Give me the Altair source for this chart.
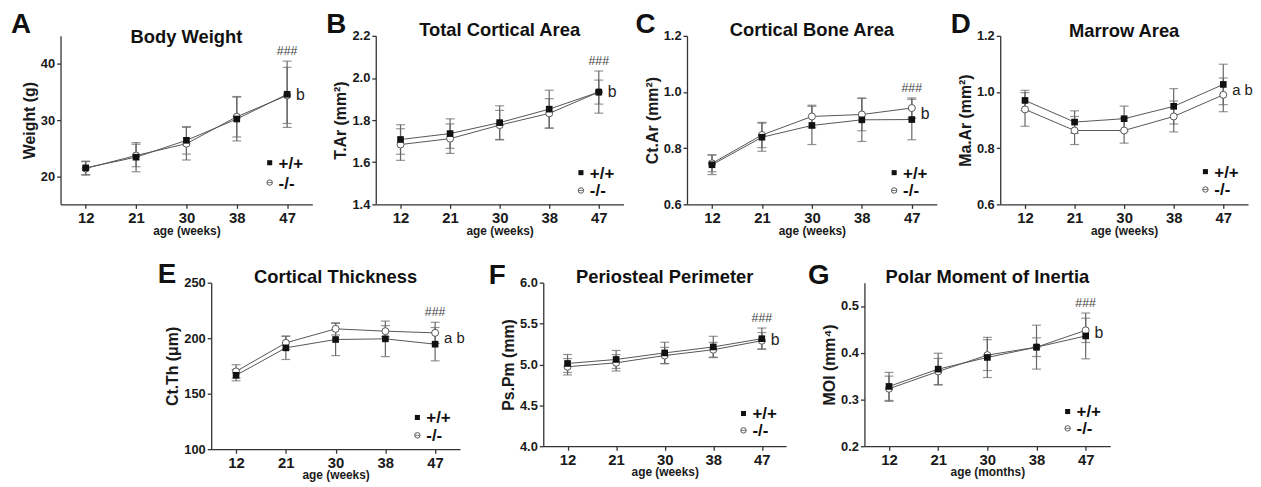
import altair as alt
import pandas as pd

FONT = "Liberation Sans"
ages = ["12", "21", "30", "38", "47"]
genotypes = ["+/+", "-/-"]

# A Body Weight
bw_wt = [21.5, 23.4, 26.4, 30.2, 34.6]
bw_wt_sd = [1.2, 2.6, 2.45, 3.9, 5.9]
bw_ko = [21.4, 23.7, 25.8, 30.6, 34.4]
bw_ko_sd = [1.2, 2.0, 2.9, 3.6, 5.0]
# B Total Cortical Area
tar_wt = [1.708, 1.736, 1.788, 1.852, 1.933]
tar_wt_sd = [0.07, 0.07, 0.08, 0.09, 0.10]
tar_ko = [1.684, 1.712, 1.776, 1.832, 1.933]
tar_ko_sd = [0.075, 0.07, 0.07, 0.07, 0.057]
# C Cortical Bone Area
ctar_wt = [0.741, 0.839, 0.881, 0.901, 0.902]
ctar_wt_sd = [0.035, 0.05, 0.068, 0.077, 0.072]
ctar_ko = [0.746, 0.847, 0.913, 0.920, 0.943]
ctar_ko_sd = [0.03, 0.045, 0.04, 0.058, 0.036]
# D Marrow Area
maar_wt = [0.970, 0.893, 0.905, 0.949, 1.027]
maar_wt_sd = [0.036, 0.04, 0.045, 0.063, 0.072]
maar_ko = [0.938, 0.863, 0.863, 0.913, 0.990]
maar_ko_sd = [0.06, 0.05, 0.045, 0.055, 0.06]
# E Cortical Thickness
ctth_wt = [166.6, 191.3, 198.8, 199.4, 194.6]
ctth_wt_sd = [5.0, 10.5, 14.5, 16.0, 15.0]
ctth_ko = [170.1, 195.8, 208.4, 206.3, 204.8]
ctth_ko_sd = [6.0, 6.0, 5.5, 5.0, 9.5]
# F Periosteal Perimeter
pspm_wt = [5.012, 5.061, 5.141, 5.214, 5.315]
pspm_wt_sd = [0.11, 0.11, 0.13, 0.13, 0.13]
pspm_ko = [4.972, 5.020, 5.109, 5.180, 5.290]
pspm_ko_sd = [0.10, 0.10, 0.10, 0.09, 0.10]
# G Polar Moment of Inertia
moi_wt = [0.328, 0.365, 0.390, 0.412, 0.436]
moi_wt_sd = [0.03, 0.034, 0.043, 0.047, 0.049]
moi_ko = [0.323, 0.360, 0.395, 0.412, 0.448]
moi_ko_sd = [0.027, 0.028, 0.033, 0.02, 0.026]

panels = [
    dict(letter="A", title="Body Weight", ytitle="Weight (g)", xtitle="age (weeks)",
         domain=[15, 45], ticks=[20, 30, 40], fmt="d",
         wt=bw_wt, wt_sd=bw_wt_sd, ko=bw_ko, ko_sd=bw_ko_sd, hashes="###", sig="b",
         w=254, h=170, title_y=7, letter_x=-50, letter_y=-3, anchor=-52, leg=(-42, -22)),
    dict(letter="B", title="Total Cortical Area", ytitle="T.Ar (mm²)", xtitle="age (weeks)",
         domain=[1.4, 2.2], ticks=[1.4, 1.6, 1.8, 2.0, 2.2], fmt=".1f",
         wt=tar_wt, wt_sd=tar_wt_sd, ko=tar_ko, ko_sd=tar_ko_sd, hashes="###", sig="b",
         w=250, h=170, title_y=0, letter_x=-50, letter_y=-3, anchor=-52, leg=(-32, -14)),
    dict(letter="C", title="Cortical Bone Area", ytitle="Ct.Ar (mm²)", xtitle="age (weeks)",
         domain=[0.6, 1.2], ticks=[0.6, 0.8, 1.0, 1.2], fmt=".1f",
         wt=ctar_wt, wt_sd=ctar_wt_sd, ko=ctar_ko, ko_sd=ctar_ko_sd, hashes="###", sig="b",
         w=252, h=170, title_y=0, letter_x=-52, letter_y=-3, anchor=-52, leg=(-32, -14)),
    dict(letter="D", title="Marrow Area", ytitle="Ma.Ar (mm²)", xtitle="age (weeks)",
         domain=[0.6, 1.2], ticks=[0.6, 0.8, 1.0, 1.2], fmt=".1f",
         wt=maar_wt, wt_sd=maar_wt_sd, ko=maar_ko, ko_sd=maar_ko_sd, hashes="", sig="a b",
         w=250, h=170, title_y=1, letter_x=-50, letter_y=-3, anchor=-52, leg=(-33, -15)),
    dict(letter="E", title="Cortical Thickness", ytitle="Ct.Th (μm)", xtitle="age (weeks)",
         domain=[100, 250], ticks=[100, 150, 200, 250], fmt="d",
         wt=ctth_wt, wt_sd=ctth_wt_sd, ko=ctth_ko, ko_sd=ctth_ko_sd, hashes="###", sig="a b",
         w=251, h=168, title_y=0, letter_x=-54, letter_y=0, anchor=-57, leg=(-32, -14)),
    dict(letter="F", title="Periosteal Perimeter", ytitle="Ps.Pm (mm)", xtitle="age (weeks)",
         domain=[4.0, 6.0], ticks=[4.0, 4.5, 5.0, 5.5, 6.0], fmt=".1f",
         wt=pspm_wt, wt_sd=pspm_wt_sd, ko=pspm_ko, ko_sd=pspm_ko_sd, hashes="###", sig="b",
         w=245, h=165, title_y=0, letter_x=-55, letter_y=1, anchor=-57, leg=(-33, -16)),
    dict(letter="G", title="Polar Moment of Inertia", ytitle="MOI (mm⁴)", xtitle="age (months)",
         domain=[0.2, 0.55], ticks=[0.2, 0.3, 0.4, 0.5], fmt=".1f",
         wt=moi_wt, wt_sd=moi_wt_sd, ko=moi_ko, ko_sd=moi_ko_sd, hashes="###", sig="b",
         w=248, h=165, title_y=0, letter_x=-57, letter_y=1, anchor=-57, leg=(-35, -18)),
]


def make_panel(p):
    rows = []
    for i, a in enumerate(ages):
        rows.append(dict(age=a, geno=genotypes[0], mean=p["wt"][i],
                         lo=p["wt"][i] - p["wt_sd"][i], hi=p["wt"][i] + p["wt_sd"][i]))
        rows.append(dict(age=a, geno=genotypes[1], mean=p["ko"][i],
                         lo=p["ko"][i] - p["ko_sd"][i], hi=p["ko"][i] + p["ko_sd"][i]))
    df = pd.DataFrame(rows)
    W, H = p["w"], p["h"]

    xaxis = alt.Axis(title=p["xtitle"], labelAngle=0, labelFontSize=15, labelFontWeight="bold",
                     titleFontSize=12, titleFontWeight="bold", tickSize=4, labelPadding=2,
                     titlePadding=0, labelColor="#1a1a1a", titleColor="#1a1a1a")
    xscale = alt.Scale(type="point", padding=0.5)
    xenc = alt.X("age:O", sort=ages, scale=xscale, axis=xaxis)
    yscale = alt.Scale(domain=p["domain"], nice=False, zero=False)
    yaxis = alt.Axis(title=p["ytitle"], values=p["ticks"], format=p["fmt"], labelFontSize=13,
                     labelFontWeight="bold", titleFontSize=16, titleFontWeight="bold",
                     tickSize=4, labelPadding=2, titlePadding=3,
                     labelColor="#1a1a1a", titleColor="#1a1a1a")

    base = alt.Chart(df).encode(x=xenc)
    rules = base.mark_rule(color="#666", strokeWidth=1.2).encode(
        y=alt.Y("lo:Q", scale=yscale, axis=yaxis), y2="hi:Q")
    cap_hi = base.mark_tick(orient="horizontal", size=9, thickness=1.2, color="#666").encode(
        y=alt.Y("hi:Q", scale=yscale, axis=yaxis))
    cap_lo = base.mark_tick(orient="horizontal", size=9, thickness=1.2, color="#666").encode(
        y=alt.Y("lo:Q", scale=yscale, axis=yaxis))
    lines = base.mark_line(color="#555", strokeWidth=1).encode(
        y=alt.Y("mean:Q", scale=yscale, axis=yaxis), detail="geno:N")
    ko_pts = base.transform_filter(alt.datum.geno == genotypes[1]).mark_point(
        shape="circle", filled=True, fill="white", stroke="#555", strokeWidth=1,
        size=50, opacity=1).encode(y=alt.Y("mean:Q", scale=yscale, axis=yaxis))
    wt_pts = base.transform_filter(alt.datum.geno == genotypes[0]).mark_point(
        shape="square", filled=True, color="#111", size=45, opacity=1).encode(
        y=alt.Y("mean:Q", scale=yscale, axis=yaxis))

    layers = [rules, cap_hi, cap_lo, lines, ko_pts, wt_pts]

    # significance annotations
    hi_max = max(p["wt"][4] + p["wt_sd"][4], p["ko"][4] + p["ko_sd"][4])
    if p["hashes"]:
        hdf = pd.DataFrame({"age": [ages[4]], "y": [hi_max], "t": [p["hashes"]]})
        layers.append(alt.Chart(hdf).mark_text(baseline="bottom", dy=-3, fontSize=12.5,
                                               color="#444", font=FONT).encode(
            x=alt.X("age:O", sort=ages, scale=xscale, axis=xaxis),
            y=alt.Y("y:Q", scale=yscale, axis=yaxis), text="t:N"))
    mid = (p["wt"][4] + p["ko"][4]) / 2
    sdf = pd.DataFrame({"age": [ages[4]], "y": [mid], "t": [p["sig"]]})
    layers.append(alt.Chart(sdf).mark_text(align="left", baseline="middle", dx=9,
                                           fontSize=16 if p["sig"] == "b" else 15,
                                           color="#222", font=FONT).encode(
        x=alt.X("age:O", sort=ages, scale=xscale, axis=xaxis),
        y=alt.Y("y:Q", scale=yscale, axis=yaxis), text="t:N"))

    # legend
    ly1, ly2 = p["leg"]
    one = pd.DataFrame({"g": [genotypes[0]]})
    two = pd.DataFrame({"g": [genotypes[1]]})
    layers.append(alt.Chart(one).mark_point(shape="square", filled=True, color="#111",
                                            size=26, opacity=1).encode(
        x=alt.value(W - 43), y=alt.value(H + ly1)))
    layers.append(alt.Chart(two).mark_point(shape="circle", filled=True, fill="white",
                                            stroke="#555", strokeWidth=1, size=30,
                                            opacity=1).encode(
        x=alt.value(W - 43), y=alt.value(H + ly2)))
    layers.append(alt.Chart(two).mark_rule(color="#555", strokeWidth=0.8).encode(
        x=alt.value(W - 45.5), x2=alt.value(W - 40.5), y=alt.value(H + ly2)))
    for d, ly in ((one, ly1), (two, ly2)):
        layers.append(alt.Chart(d).mark_text(align="left", baseline="middle", fontSize=17,
                                             fontWeight="bold", color="#111", font=FONT).encode(
            x=alt.value(W - 34), y=alt.value(H + ly + 1), text="g:N"))

    # layout anchor (invisible), letter and title
    ldf = pd.DataFrame({"t": [p["letter"]]})
    layers.append(alt.Chart(ldf).mark_point(opacity=0, size=1).encode(
        x=alt.value(p["anchor"]), y=alt.value(0)))
    layers.append(alt.Chart(ldf).mark_text(align="left", baseline="alphabetic", fontSize=28,
                                           fontWeight="bold", color="#111", font=FONT).encode(
        x=alt.value(p["letter_x"]), y=alt.value(p["letter_y"]), text="t:N"))
    tdf = pd.DataFrame({"t": [p["title"]]})
    layers.append(alt.Chart(tdf).mark_text(align="center", baseline="alphabetic", fontSize=18.5,
                                           fontWeight="bold", color="#111", font=FONT).encode(
        x=alt.value(W / 2), y=alt.value(p["title_y"]), text="t:N"))

    return alt.layer(*layers).properties(width=W, height=H)


charts = [make_panel(p) for p in panels]
spacer = alt.Chart(pd.DataFrame({"v": [0]})).mark_point(opacity=0).encode(
    x=alt.X("v:Q", axis=None), y=alt.Y("v:Q", axis=None)).properties(width=73, height=165)

top = alt.hconcat(*charts[:4], spacing=11)
bottom = alt.hconcat(spacer, *charts[4:], spacing=21)

chart = alt.vconcat(top, bottom, spacing=25).properties(
    padding={"left": 0, "top": 1, "right": 0, "bottom": 0}
).configure_view(stroke=None).configure_axis(
    grid=False, domainColor="#333", tickColor="#333", domainWidth=1.3, tickWidth=1.3,
    labelFont=FONT, titleFont=FONT
).configure_text(font=FONT)

chart.save("out.html", embed_options={"renderer": "svg", "actions": False})
